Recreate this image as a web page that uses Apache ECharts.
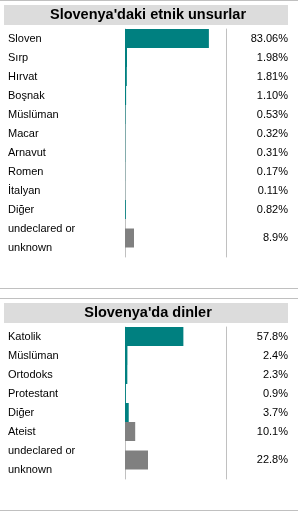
<!DOCTYPE html>
<html>
<head>
<meta charset="utf-8">
<script src="https://cdn.jsdelivr.net/npm/echarts@6/dist/echarts.min.js"></script>
<style>
  html, body { margin: 0; padding: 0; background: #fff; }
  #chart { width: 298px; height: 511px; }
</style>
</head>
<body>
<div id="chart"></div>
<script>
// Slovenya'daki etnik unsurlar
const ethnicNames = ["Sloven", "Sırp", "Hırvat", "Boşnak", "Müslüman", "Macar", "Arnavut", "Romen", "İtalyan", "Diğer"];
const ethnicValues = [83.06, 1.98, 1.81, 1.10, 0.53, 0.32, 0.31, 0.17, 0.11, 0.82];
const ethnicLabels = ["83.06%", "1.98%", "1.81%", "1.10%", "0.53%", "0.32%", "0.31%", "0.17%", "0.11%", "0.82%"];
const ethnicUnknownName = "undeclared or\nunknown";
const ethnicUnknownValue = 8.9;
const ethnicUnknownLabel = "8.9%";

// Slovenya'da dinler
const religionNames = ["Katolik", "Müslüman", "Ortodoks", "Protestant", "Diğer", "Ateist"];
const religionValues = [57.8, 2.4, 2.3, 0.9, 3.7, 10.1];
const religionLabels = ["57.8%", "2.4%", "2.3%", "0.9%", "3.7%", "10.1%"];
const religionUnknownName = "undeclared or\nunknown";
const religionUnknownValue = 22.8;
const religionUnknownLabel = "22.8%";
const greyRows = ["Ateist"];

const TEAL = "#008080";
const GREY = "#808080";
const LINE = "#c0c0c0";
const FONT = "Liberation Sans, Arial, sans-serif";

const chart = echarts.init(document.getElementById("chart"));

const grids = [
  { left: 125, width: 101, top: 29, height: 190 },
  { left: 125, width: 101, top: 219, height: 38 },
  { left: 125, width: 101, top: 327, height: 114 },
  { left: 125, width: 101, top: 441, height: 38 },
];

const rows = [
  { names: ethnicNames, values: ethnicValues, labels: ethnicLabels },
  { names: [ethnicUnknownName], values: [ethnicUnknownValue], labels: [ethnicUnknownLabel] },
  { names: religionNames, values: religionValues, labels: religionLabels },
  { names: [religionUnknownName], values: [religionUnknownValue], labels: [religionUnknownLabel] },
];

const xAxis = grids.map((g, i) => ({
  type: "value", gridIndex: i, min: 0, max: 100, show: false,
}));

const yAxis = [];
rows.forEach((r, i) => {
  yAxis.push({
    type: "category", gridIndex: i, position: "left", inverse: true,
    data: r.names,
    axisLine: { show: true, lineStyle: { color: LINE, width: 1 } },
    axisTick: { show: false },
    axisLabel: {
      margin: 117, align: "left", color: "#000",
      fontFamily: FONT, fontSize: 11, lineHeight: 19,
    },
  });
  yAxis.push({
    type: "category", gridIndex: i, position: "right", inverse: true,
    data: r.labels,
    axisLine: { show: true, lineStyle: { color: LINE, width: 1 } },
    axisTick: { show: false },
    axisLabel: {
      margin: 62, align: "right", color: "#000",
      fontFamily: FONT, fontSize: 11,
    },
  });
});

const series = rows.map((r, i) => ({
  type: "bar",
  xAxisIndex: i,
  yAxisIndex: i * 2,
  data: r.values.map((v, k) => ({ value: v, name: r.names[k] })),
  barCategoryGap: "0%",
  barWidth: i % 2 === 1 ? 19 : undefined,
  silent: true,
  itemStyle: {
    color: (p) => (i % 2 === 1 || greyRows.includes(p.name) ? GREY : TEAL),
  },
}));

const hline = (y) => ({
  type: "line", silent: true,
  shape: { x1: 0, y1: y, x2: 298, y2: y },
  style: { stroke: LINE, lineWidth: 1 },
});

chart.setOption({
  animation: false,
  title: [
    { text: "Slovenya'daki etnik unsurlar", left: 148, top: 15, textAlign: "center", textVerticalAlign: "middle",
      textStyle: { fontFamily: FONT, fontSize: 14.5, fontWeight: "bold", color: "#000" }, padding: 0 },
    { text: "Slovenya'da dinler", left: 148, top: 313, textAlign: "center", textVerticalAlign: "middle",
      textStyle: { fontFamily: FONT, fontSize: 14.5, fontWeight: "bold", color: "#000" }, padding: 0 },
  ],
  graphic: [
    { type: "rect", z: -1, shape: { x: 4, y: 5, width: 284, height: 20 }, style: { fill: "#dcdcdc" } },
    { type: "rect", z: -1, shape: { x: 4, y: 303, width: 284, height: 20 }, style: { fill: "#dcdcdc" } },
    hline(0.5), hline(288.5), hline(298.5), hline(510.5),
  ],
  grid: grids,
  xAxis: xAxis,
  yAxis: yAxis,
  series: series,
});
</script>
</body>
</html>
